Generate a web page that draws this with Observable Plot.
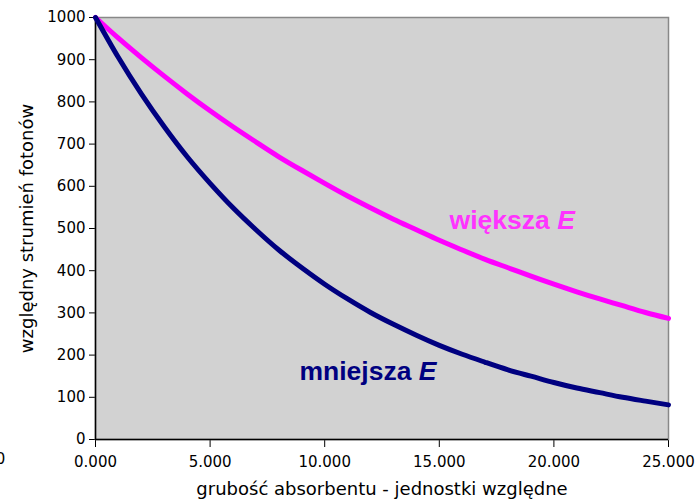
<!DOCTYPE html>
<html><head><meta charset="utf-8">
<script src="https://cdn.jsdelivr.net/npm/d3@7"></script>
<script src="https://cdn.jsdelivr.net/npm/@observablehq/plot@0.6"></script>
<style>
body{margin:0;background:#fff;}
#chart{position:relative;width:698px;height:499px;}
</style></head><body><div id="chart"></div>
<script>
const thickness = [0,1,2,3,4,5,6,7,8,9,10,11,12,13,14,15,16,17,18,19,20,21,22,23,24,25];
const largerE  = [1000,951,905,861,819,779,741,705,670,638,607,577,549,522,497,472,449,427,407,387,368,350,333,317,301,287];
const smallerE = [1000,905,819,741,670,607,549,497,449,407,368,333,301,273,247,223,202,183,165,150,135,122,111,100,91,82];
const xTicks = [0,5,10,15,20,25];
const xTickLabels = ["0.000","5.000","10.000","15.000","20.000","25.000"];
const yTicks = [0,100,200,300,400,500,600,700,800,900,1000];
const yTickLabels = ["0","100","200","300","400","500","600","700","800","900","1000"];
const seriesLabels = [
  {x:15.45, y:519, name:"większa ", e:"E", color:"#ff33ff"},
  {x:8.9, y:161, name:"mniejsza ", e:"E", color:"#000080"}
];
const dataL = thickness.map((t,i)=>({t, v:largerE[i]}));
const dataS = thickness.map((t,i)=>({t, v:smallerE[i]}));

const chart = Plot.plot({
  width:698, height:499,
  marginLeft:95, marginRight:30, marginTop:17, marginBottom:60,
  style:{fontFamily:"DejaVu Sans", fontSize:"15px", color:"#000", background:"transparent"},
  x:{domain:[0,25], ticks:xTicks, tickFormat:(d)=>xTickLabels[xTicks.indexOf(d)], tickSize:8, tickPadding:9,
     label:"grubość absorbentu - jednostki względne", labelAnchor:"center", labelArrow:"none", labelOffset:55},
  y:{domain:[0,1000], ticks:yTicks, tickFormat:(d)=>yTickLabels[yTicks.indexOf(d)], tickSize:6, tickPadding:4,
     label:"względny strumień fotonów", labelAnchor:"center", labelArrow:"none", labelOffset:75},
  marks:[
    Plot.frame({fill:"#d2d2d2", stroke:"#888", strokeWidth:1.5}),
    Plot.ruleX([0],{stroke:"#000", strokeWidth:1.5}),
    Plot.ruleY([0],{stroke:"#000", strokeWidth:1.5}),
    Plot.line(dataL,{x:"t", y:"v", stroke:"#ff00ff", strokeWidth:5, curve:"natural"}),
    Plot.line(dataS,{x:"t", y:"v", stroke:"#000080", strokeWidth:5, curve:"natural"}),
    Plot.text(seriesLabels,{x:"x", y:"y", text:"name", fill:"color", textAnchor:"start",
      fontFamily:"Liberation Sans", fontWeight:"bold", fontSize:26.5, className:"serieslab"}),
    Plot.text(["0"],{frameAnchor:"bottom-left", dx:-95, dy:24, text:d=>d, textAnchor:"middle", fontSize:15})
  ]
});
document.getElementById("chart").appendChild(chart);
d3.select(chart).selectAll(".serieslab text").each(function(d,i){
  const lab = seriesLabels[i];
  const t = d3.select(this);
  t.text(null);
  t.append("tspan").text(lab.name);
  t.append("tspan").attr("font-style","italic").text(lab.e);
});
d3.select(chart).selectAll("[aria-label='x-axis label'] text, [aria-label='y-axis label'] text").style("font-size","18px");
</script></body></html>
